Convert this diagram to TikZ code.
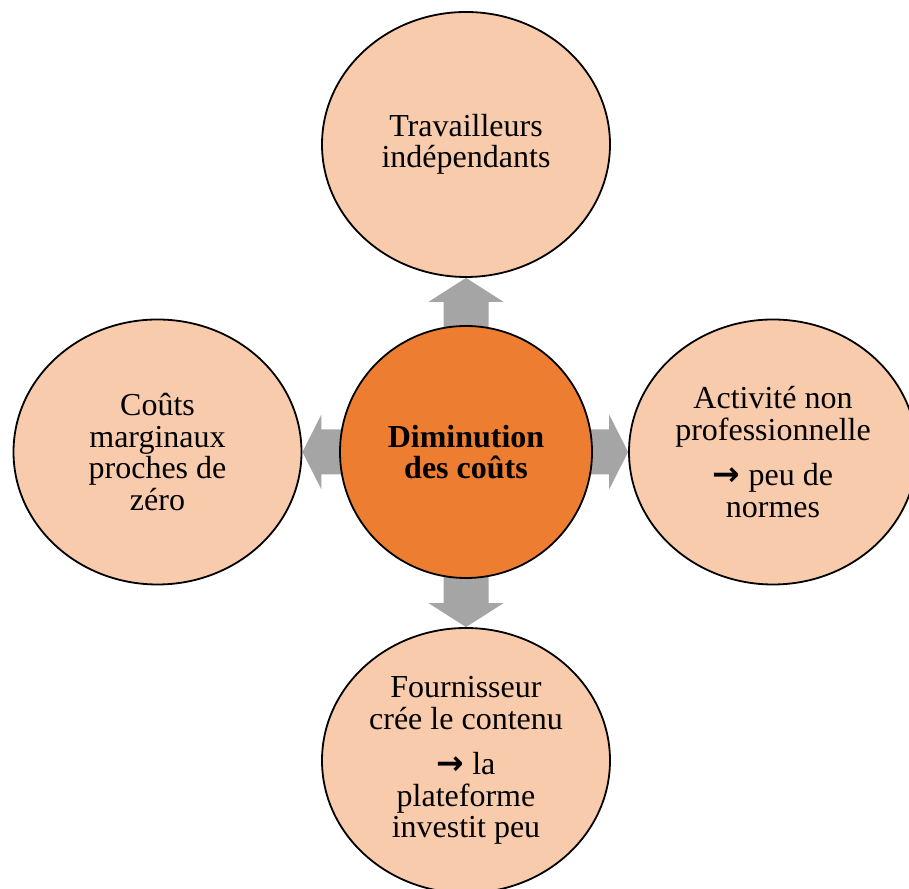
\documentclass[tikz,border=0pt]{standalone}
\usepackage{fontspec}
\setmainfont{Liberation Serif}
\newfontfamily\arrowfont{DejaVu Sans}
\usetikzlibrary{shapes.geometric,calc,backgrounds}
\definecolor{lightor}{HTML}{F8CBAD}
\definecolor{darkor}{HTML}{ED7D31}
\definecolor{arrgray}{HTML}{A5A5A5}
\newcommand\myarr{{\arrowfont\bfseries\fontsize{33}{32}\selectfont →}}
\begin{document}
\begin{tikzpicture}[
  outerbub/.style={ellipse, draw=black, line width=1.8pt, fill=lightor,
    minimum width=288pt, minimum height=265pt, inner sep=0pt, align=center,
    font=\fontsize{32}{31.5}\selectfont},
  innerbub/.style={circle, draw=black, line width=1.8pt, fill=darkor,
    minimum size=252pt, inner sep=0pt, align=center,
    font=\bfseries\fontsize{32}{31.5}\selectfont},
  blockarrow/.style={fill=arrgray, draw=none}
]
\useasboundingbox (0,0) rectangle (909pt,888pt);

\node[innerbub] (c) at (466pt,436pt) {Diminution\\des coûts};
\node[outerbub] (t) at (466pt,743.5pt) {Travailleurs\\indépendants};
\node[outerbub] (l) at (157.5pt,436pt) {Coûts\\marginaux\\proches de\\zéro};
\node[outerbub] (r) at (773pt,436pt) {Activité non\\professionnelle\\[14pt]\myarr{} peu de\\normes};
\node[outerbub] (b) at (466pt,127.5pt) {Fournisseur\\crée le contenu\\[14pt]\myarr{} la\\plateforme\\investit peu};

\begin{scope}[on background layer]
% up
\fill[blockarrow] ($(c.north)+(-22.5pt,-3pt)$) -- ($(t.south)+(-22.5pt,-24pt)$)
  -- ($(t.south)+(-37.5pt,-24pt)$) -- (t.south) -- ($(t.south)+(37.5pt,-24pt)$)
  -- ($(t.south)+(22.5pt,-24pt)$) -- ($(c.north)+(22.5pt,-3pt)$) -- cycle;
% down
\fill[blockarrow] ($(c.south)+(-22.5pt,3pt)$) -- ($(b.north)+(-22.5pt,24pt)$)
  -- ($(b.north)+(-37.5pt,24pt)$) -- (b.north) -- ($(b.north)+(37.5pt,24pt)$)
  -- ($(b.north)+(22.5pt,24pt)$) -- ($(c.south)+(22.5pt,3pt)$) -- cycle;
% left
\fill[blockarrow] ($(c.west)+(3pt,-22.5pt)$) -- ($(l.east)+(19pt,-22.5pt)$)
  -- ($(l.east)+(19pt,-37.5pt)$) -- (l.east) -- ($(l.east)+(19pt,37.5pt)$)
  -- ($(l.east)+(19pt,22.5pt)$) -- ($(c.west)+(3pt,22.5pt)$) -- cycle;
% right
\fill[blockarrow] ($(c.east)+(-3pt,-22.5pt)$) -- ($(r.west)+(-19pt,-22.5pt)$)
  -- ($(r.west)+(-19pt,-37.5pt)$) -- (r.west) -- ($(r.west)+(-19pt,37.5pt)$)
  -- ($(r.west)+(-19pt,22.5pt)$) -- ($(c.east)+(-3pt,22.5pt)$) -- cycle;
\end{scope}
\end{tikzpicture}
\end{document}
